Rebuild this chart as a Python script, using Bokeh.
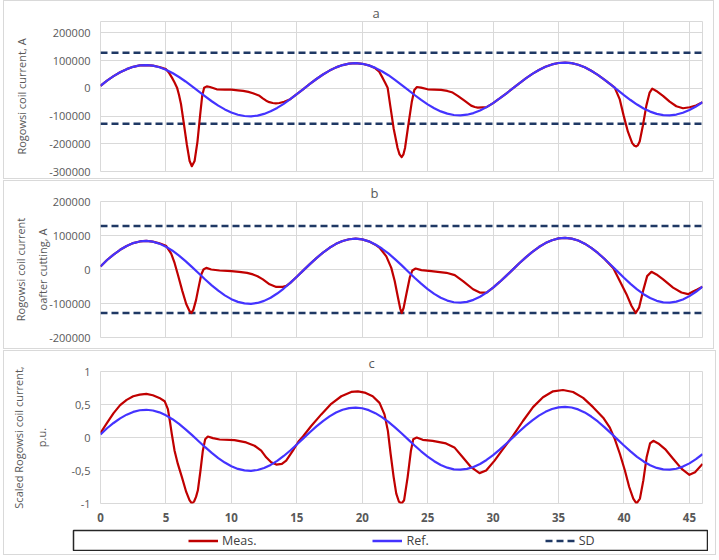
from bokeh.plotting import figure
from bokeh.models import (Range1d, FixedTicker, NumeralTickFormatter, CustomJSTickFormatter,
                          Legend, LegendItem, Spacer)
from bokeh.layouts import column, row
from bokeh.embed import file_html
from bokeh.resources import INLINE

# ---------------- data ----------------
t_ref = [i * 0.5 for i in range(93)]          # sample times 0 ... 46

ref_a = [9000, 28000, 44000, 57900, 69200, 77600, 82500, 84000, 81800, 76100,
         67200, 55300, 40900, 24700, 7000, -11200, -29300, -46600, -62400, -76000,
         -87200, -95200, -99800, -100900, -98400, -92300, -83000, -70700, -55900, -39300,
         -21200, -2600, 15900, 33600, 49800, 63900, 75500, 83900, 89000, 90600,
         88500, 82800, 73700, 61700, 47300, 30600, 12800, -5700, -24100, -41700,
         -57800, -71800, -83200, -91400, -96300, -97600, -95200, -89300, -80100, -67900,
         -53300, -36600, -18800, -300, 18200, 35800, 52000, 66100, 77700, 86200,
         91400, 93000, 90900, 85100, 75900, 63500, 48600, 31600, 13400, -5500,
         -24300, -42200, -58500, -72600, -84000, -92100, -96600, -97500, -94600, -88100,
         -78300, -65500, -50400]

ref_c = [0.045, 0.14, 0.22, 0.29, 0.346, 0.388, 0.413, 0.42, 0.409, 0.381,
         0.336, 0.277, 0.205, 0.124, 0.035, -0.056, -0.147, -0.233, -0.312, -0.38,
         -0.436, -0.476, -0.499, -0.505, -0.492, -0.462, -0.415, -0.354, -0.28, -0.197,
         -0.106, -0.013, 0.08, 0.168, 0.249, 0.32, 0.378, 0.42, 0.445, 0.453,
         0.443, 0.414, 0.369, 0.309, 0.237, 0.153, 0.064, -0.029, -0.121, -0.209,
         -0.289, -0.359, -0.416, -0.457, -0.482, -0.488, -0.476, -0.447, -0.401, -0.34,
         -0.267, -0.183, -0.094, -0.002, 0.091, 0.179, 0.26, 0.331, 0.389, 0.431,
         0.457, 0.465, 0.455, 0.426, 0.38, 0.318, 0.243, 0.158, 0.067, -0.028,
         -0.122, -0.211, -0.293, -0.363, -0.42, -0.461, -0.483, -0.488, -0.473, -0.441,
         -0.392, -0.328, -0.252]

meas_a = [(0, 9000), (0.5, 28000), (1, 44000), (1.5, 57900), (2, 69200), (2.5, 77600),
          (3, 82500), (3.5, 84000), (4, 82000), (4.5, 77000), (5, 69400), (5.25, 55000),
          (5.47, 37600), (5.65, 22000), (5.85, 2400), (6, -24000), (6.15, -56500),
          (6.35, -121000), (6.6, -203500), (6.81, -262000), (6.98, -281000), (7.19, -262000),
          (7.41, -192000), (7.61, -97600), (7.77, -27000), (7.92, 2400), (8.12, 7000),
          (8.37, 4700), (8.88, -3500), (9.5, -4500), (10, -5000), (10.5, -7500), (10.9, -9400),
          (11.3, -13000), (11.65, -17600), (12.15, -27000), (12.4, -36000), (12.66, -44700),
          (12.9, -50000), (13.16, -53000), (13.4, -54000), (13.67, -53000), (14.04, -48500),
          (14.5, -39300), (15, -21200), (15.5, -2600), (16, 15900), (16.5, 33600), (17, 49800),
          (17.5, 63900), (18, 75500), (18.5, 83900), (19, 89000), (19.5, 90600), (20, 88500),
          (20.5, 82800), (21, 72000), (21.3, 60000), (21.56, 37600), (21.75, 20000),
          (21.94, 2400), (22.14, -62400), (22.4, -144700), (22.7, -215300), (22.85, -238000),
          (23.01, -248000), (23.15, -238000), (23.27, -215300), (23.52, -133000),
          (23.78, -50600), (23.98, -5900), (24.18, 4700), (24.49, 2400), (25, -3500),
          (25.5, -4500), (26.02, -5900), (26.5, -9500), (26.91, -15300), (27.3, -27000),
          (27.81, -44700), (28.32, -62400), (28.6, -67500), (28.83, -69400), (29.2, -68500),
          (29.5, -67900), (30, -53300), (30.5, -36600), (31, -18800), (31.5, -300),
          (32, 18200), (32.5, 35800), (33, 52000), (33.5, 66100), (34, 77700), (34.5, 86200),
          (35, 91400), (35.5, 93000), (36, 90900), (36.5, 85100), (37, 75900), (37.5, 63500),
          (38, 48600), (38.5, 31600), (39, 13400), (39.29, 2400), (39.67, -38800),
          (39.97, -97600), (40.3, -156500), (40.63, -197600), (40.8, -207000),
          (40.94, -209400), (41.05, -206000), (41.2, -191800), (41.45, -133000),
          (41.71, -62400), (41.96, -15300), (42.16, -1200), (42.47, -9400), (42.98, -27000),
          (43.49, -48200), (44, -64700), (44.51, -71800), (45.02, -68200), (45.5, -62000),
          (46, -50400)]

meas_b = [(0, 9000), (0.5, 28000), (1, 44000), (1.5, 57900), (2, 69200), (2.5, 77600),
          (3, 82500), (3.5, 84000), (4, 82000), (4.5, 77000), (5, 70000), (5.4, 47000),
          (5.66, 19300), (5.91, -14500), (6.25, -62800), (6.55, -101400), (6.8, -122000),
          (6.95, -128000), (7.1, -118000), (7.3, -90000), (7.44, -62800), (7.7, -14500),
          (7.87, 0), (8.08, 4800), (8.46, 0), (9.1, -2900), (10, -5000), (10.6, -6800),
          (11.2, -10000), (11.65, -14500), (12, -20000), (12.41, -29000), (12.92, -43500),
          (13.43, -51200), (13.94, -51200), (14.2, -48000), (14.5, -39300), (15, -21200),
          (15.5, -2600), (16, 15900), (16.5, 33600), (17, 49800), (17.5, 63900), (18, 75500),
          (18.5, 83900), (19, 89000), (19.5, 90600), (20, 88500), (20.5, 82800), (21, 73000),
          (21.33, 64000), (21.84, 38700), (22.22, 4800), (22.48, -33900), (22.73, -82300),
          (22.91, -116200), (23.01, -128000), (23.16, -113300), (23.37, -72600),
          (23.63, -24200), (23.83, -2900), (24.08, 2900), (24.52, -1900), (25.28, -4800),
          (26.43, -9700), (27.07, -16500), (27.7, -33900), (28.47, -58100), (28.98, -67800),
          (29.5, -67900), (30, -53300), (30.5, -36600), (31, -18800), (31.5, -300),
          (32, 18200), (32.5, 35800), (33, 52000), (33.5, 66100), (34, 77700), (34.5, 86200),
          (35, 91400), (35.5, 93000), (36, 90900), (36.5, 85100), (37, 75900), (37.5, 63500),
          (38, 48600), (38.5, 31600), (39.17, 4800), (39.68, -33900), (40.19, -72600),
          (40.57, -106500), (40.9, -128000), (41.16, -111300), (41.46, -62900),
          (41.77, -19400), (42.1, -6800), (42.48, -14500), (42.99, -29000), (43.75, -53200),
          (44.39, -67800), (44.9, -72600), (45.28, -64900), (45.6, -59000), (46, -50400)]

meas_c = [(0, 0.07), (0.5, 0.22), (1, 0.37), (1.5, 0.49), (2, 0.57), (2.5, 0.625),
          (3, 0.65), (3.5, 0.66), (4, 0.64), (4.5, 0.6), (4.9, 0.55), (5.15, 0.43),
          (5.3, 0.25), (5.45, 0.05), (5.66, -0.2), (5.91, -0.4), (6.22, -0.6), (6.55, -0.825),
          (6.8, -0.95), (6.98, -1.0), (7.15, -0.97), (7.3, -0.9), (7.44, -0.8), (7.64, -0.5),
          (7.82, -0.2), (8, -0.025), (8.2, 0.015), (8.59, -0.01), (9.1, -0.03), (10.24, -0.04),
          (11.13, -0.075), (11.77, -0.125), (12.28, -0.2), (12.66, -0.3), (13.04, -0.375),
          (13.43, -0.41), (13.86, -0.4), (14.19, -0.35), (14.7, -0.2), (15.13, -0.06),
          (15.47, 0.015), (16.1, 0.175), (16.87, 0.35), (17.63, 0.51), (18.4, 0.625),
          (19.16, 0.69), (19.67, 0.7), (20.18, 0.68), (20.8, 0.625), (21.32, 0.525),
          (21.7, 0.35), (21.96, 0.1), (22.17, -0.25), (22.4, -0.6), (22.6, -0.85),
          (22.8, -0.97), (23.0, -1.0), (23.2, -0.95), (23.47, -0.6), (23.72, -0.2),
          (23.9, -0.025), (24.16, 0.0), (24.62, -0.035), (25.38, -0.05), (26.4, -0.09),
          (27.04, -0.15), (27.68, -0.3), (28.32, -0.45), (28.96, -0.54), (29.47, -0.5),
          (30.11, -0.35), (30.75, -0.175), (31.51, 0.025), (32.28, 0.25), (33.05, 0.46),
          (33.81, 0.61), (34.58, 0.7), (35.34, 0.72), (36.11, 0.69), (36.88, 0.6),
          (37.64, 0.46), (38.41, 0.3), (38.92, 0.15), (39.3, -0.025), (39.69, -0.25),
          (40.07, -0.5), (40.4, -0.75), (40.71, -0.925), (40.96, -1.0), (41.22, -0.925),
          (41.48, -0.65), (41.73, -0.3), (41.99, -0.09), (42.24, -0.05), (42.62, -0.09),
          (43.14, -0.175), (43.77, -0.325), (44.41, -0.475), (45.0, -0.565), (45.43, -0.525),
          (46.0, -0.4)]

sd_x = [0, 46]
sd_level = 128000

x_ticks = [0, 5, 10, 15, 20, 25, 30, 35, 40, 45]
ticks_a = [-300000, -200000, -100000, 0, 100000, 200000]
ticks_b = [-200000, -100000, 0, 100000, 200000]
ticks_c = [-1, -0.5, 0, 0.5, 1]

titles = ["a", "b", "c"]
ylabels = ["Rogowsi coil current, A",
           "Rogowsi coil current\noafter cutting, A",
           "Scaled Rogowsi coil current,\np.u."]
legend_labels = ["Meas.", "Ref.", "SD"]

# ---------------- styling ----------------
FONT = "Open Sans"
GRID = "#d9d9d9"
TXT = "#595959"
RED = "#C00000"
BLUE = "#4433FF"
NAVY = "#1F3864"
W = 711
BORDER = {"border": "1px solid #d9d9d9"}


def panel(title, height, yr, yticks, formatter, top, bottom, show_x, title_offset,
          styles=None):
    kw = dict(width=W, height=height, x_range=Range1d(0, 46), y_range=Range1d(*yr),
              toolbar_location=None, output_backend="svg", title=title,
              min_border_left=96, min_border_right=13, min_border_top=top,
              min_border_bottom=bottom)
    if styles:
        kw["styles"] = styles
    p = figure(**kw)
    p.title.align = "left"
    p.title.offset = title_offset
    p.title.standoff = 0
    p.title.text_font = FONT
    p.title.text_font_size = "13px"
    p.title.text_font_style = "normal"
    p.title.text_color = TXT

    p.outline_line_color = GRID
    p.outline_line_width = 1
    p.xgrid.grid_line_color = GRID
    p.ygrid.grid_line_color = GRID
    p.xgrid.ticker = FixedTicker(ticks=x_ticks)
    p.ygrid.ticker = FixedTicker(ticks=yticks)

    ya = p.yaxis[0]
    ya.ticker = FixedTicker(ticks=yticks)
    ya.formatter = formatter
    ya.axis_line_color = None
    ya.major_tick_line_color = None
    ya.minor_tick_line_color = None
    ya.major_tick_out = 0
    ya.major_tick_in = 0
    ya.major_label_standoff = 10
    ya.major_label_text_font = FONT
    ya.major_label_text_font_size = "11px"
    ya.major_label_text_color = TXT

    xa = p.xaxis[0]
    xa.ticker = FixedTicker(ticks=x_ticks)
    if show_x:
        xa.axis_line_color = None
        xa.major_tick_line_color = None
        xa.minor_tick_line_color = None
        xa.major_tick_out = 0
        xa.major_tick_in = 0
        xa.major_label_standoff = 9
        xa.major_label_text_font = FONT
        xa.major_label_text_font_size = "11.5px"
        xa.major_label_text_font_style = "bold"
        xa.major_label_text_color = TXT
    else:
        xa.visible = False
    return p


def set_ylabel(p, text, standoff):
    ya = p.yaxis[0]
    ya.axis_label = text
    ya.axis_label_standoff = standoff
    ya.axis_label_text_font = FONT
    ya.axis_label_text_font_size = "11px"
    ya.axis_label_text_font_style = "normal"
    ya.axis_label_text_color = TXT
    ya.axis_label_text_line_height = 1.5


fmt_big = NumeralTickFormatter(format="0")
fmt_c = CustomJSTickFormatter(code="return String(tick).replace('.', ',');")

pa = panel(titles[0], 179, (-300000, 241000), ticks_a, fmt_big, 19, 9, False, 272, BORDER)
pb = panel(titles[1], 169, (-200000, 200000), ticks_b, fmt_big, 17, 13, False, 270, BORDER)
pc = panel(titles[2], 178, (-1, 1), ticks_c, fmt_c, 19, 26, True, 268)

set_ylabel(pa, ylabels[0], 17)
set_ylabel(pb, ylabels[1], -4)
set_ylabel(pc, ylabels[2], 20)

mx_a = [m[0] for m in meas_a]
my_a = [m[1] for m in meas_a]
mx_b = [m[0] for m in meas_b]
my_b = [m[1] for m in meas_b]
mx_c = [m[0] for m in meas_c]
my_c = [m[1] for m in meas_c]

for p, mx, my in ((pa, mx_a, my_a), (pb, mx_b, my_b)):
    p.line(sd_x, [sd_level, sd_level], line_color=NAVY, line_width=2.5, line_dash="7 4")
    p.line(sd_x, [-sd_level, -sd_level], line_color=NAVY, line_width=2.5, line_dash="7 4")
    p.line(mx, my, line_color=RED, line_width=2.2, line_join="round")
    p.line(t_ref, ref_a, line_color=BLUE, line_width=2.2, line_join="round")

pc.line(mx_c, my_c, line_color=RED, line_width=2.2, line_join="round")
pc.line(t_ref, ref_c, line_color=BLUE, line_width=2.2, line_join="round")

# ---------------- legend box (own small canvas under panel c) ----------------
# its x range lies outside the data, so the series only provide the legend keys
leg = figure(width=636, height=22, x_range=Range1d(100, 101), y_range=Range1d(0, 1),
             toolbar_location=None, output_backend="svg",
             min_border_left=1, min_border_right=1, min_border_top=1, min_border_bottom=1)
leg.axis.visible = False
leg.grid.visible = False
leg.outline_line_color = "#262626"
leg.outline_line_width = 1.5
g1 = leg.line(mx_c, my_c, line_color=RED, line_width=2.5)
g2 = leg.line(t_ref, ref_c, line_color=BLUE, line_width=2.5)
g3 = leg.line(sd_x, [sd_level, sd_level], line_color=NAVY, line_width=2.5, line_dash="7 4")
legend = Legend(items=[LegendItem(label=legend_labels[0], renderers=[g1]),
                       LegendItem(label=legend_labels[1], renderers=[g2]),
                       LegendItem(label=legend_labels[2], renderers=[g3])],
                location="left", orientation="horizontal", spacing=116, padding=0,
                margin=115, border_line_alpha=0, background_fill_alpha=0,
                glyph_width=30, glyph_height=14, label_height=14, label_standoff=4,
                label_text_font=FONT, label_text_font_size="12.5px",
                label_text_color="#404040")
leg.add_layout(legend, "center")

colc = column(pc, row(Spacer(width=68, height=22), leg), Spacer(width=10, height=3),
              styles=BORDER)
root = row(Spacer(width=3, height=10), column(pa, pb, colc, spacing=1))

open("out.html", "w").write(file_html(root, INLINE))
